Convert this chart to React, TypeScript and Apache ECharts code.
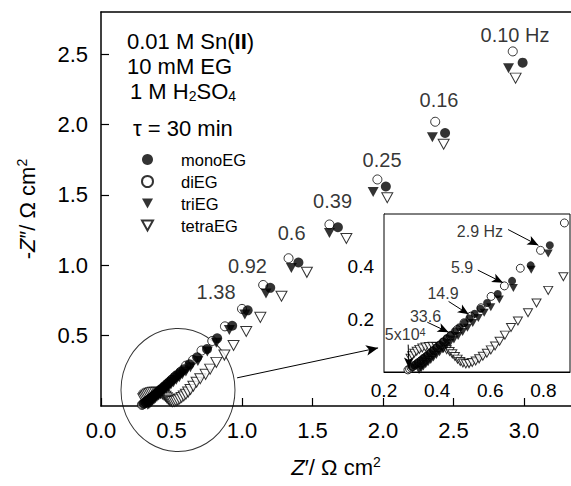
import React, { useEffect, useRef } from "react";
import * as echarts from "echarts";

// ---- data (Z', -Z'' in Ohm cm2), ordered from high to low frequency ----
const monoEG: [number, number][] = [
  [0.305, 0.018], [0.316, 0.026], [0.327, 0.035], [0.338, 0.044], [0.349, 0.053],
  [0.36, 0.062], [0.372, 0.072], [0.384, 0.082], [0.396, 0.093], [0.409, 0.104],
  [0.422, 0.116], [0.436, 0.128], [0.451, 0.141], [0.467, 0.155], [0.484, 0.17],
  [0.502, 0.186], [0.521, 0.203], [0.541, 0.221], [0.563, 0.24], [0.588, 0.262],
  [0.628, 0.296], [0.682, 0.346], [0.752, 0.405], [0.824, 0.481], [0.93, 0.57],
  [1.04, 0.68], [1.2, 0.84], [1.4, 1.02], [1.68, 1.27], [2.02, 1.56],
  [2.44, 1.94], [2.99, 2.44],
];
const diEG: [number, number][] = [
  [0.29, 0.008], [0.296, 0.012], [0.302, 0.016], [0.309, 0.021], [0.316, 0.026],
  [0.323, 0.031], [0.331, 0.037], [0.339, 0.043], [0.348, 0.05], [0.357, 0.057],
  [0.367, 0.065], [0.377, 0.073], [0.388, 0.082], [0.4, 0.092], [0.412, 0.103],
  [0.425, 0.115], [0.438, 0.126], [0.45, 0.137], [0.475, 0.161], [0.501, 0.187],
  [0.527, 0.212], [0.565, 0.244], [0.603, 0.287], [0.653, 0.327], [0.713, 0.394],
  [0.789, 0.462], [0.879, 0.566], [1.0, 0.69], [1.15, 0.86], [1.33, 1.05],
  [1.62, 1.29], [1.96, 1.61], [2.37, 2.02], [2.92, 2.52],
];
const triEG: [number, number][] = [
  [0.332, 0.008], [0.34, 0.014], [0.348, 0.021], [0.357, 0.029], [0.366, 0.037],
  [0.376, 0.046], [0.386, 0.055], [0.397, 0.065], [0.409, 0.075], [0.421, 0.086],
  [0.434, 0.098], [0.448, 0.11], [0.463, 0.123], [0.479, 0.137], [0.496, 0.152],
  [0.514, 0.168], [0.534, 0.186], [0.555, 0.205], [0.577, 0.225], [0.602, 0.246],
  [0.634, 0.275], [0.687, 0.319], [0.754, 0.388], [0.818, 0.45], [0.91, 0.54],
  [1.02, 0.65], [1.17, 0.8], [1.35, 0.98], [1.62, 1.23], [1.93, 1.52],
  [2.35, 1.91], [2.89, 2.4],
];
const tetraEG: [number, number][] = [
  [0.3, 0.052], [0.306, 0.062], [0.314, 0.071], [0.323, 0.079], [0.333, 0.086],
  [0.344, 0.091], [0.356, 0.095], [0.369, 0.097], [0.383, 0.098], [0.397, 0.097],
  [0.411, 0.095], [0.424, 0.091], [0.436, 0.085], [0.447, 0.078], [0.457, 0.069],
  [0.467, 0.059], [0.477, 0.049], [0.487, 0.04], [0.497, 0.034], [0.508, 0.031],
  [0.52, 0.032], [0.532, 0.036], [0.545, 0.042], [0.558, 0.05], [0.572, 0.06],
  [0.587, 0.071], [0.602, 0.084], [0.618, 0.099], [0.635, 0.117], [0.655, 0.14],
  [0.678, 0.169], [0.704, 0.194], [0.742, 0.225], [0.774, 0.262], [0.818, 0.31],
  [0.875, 0.362], [0.94, 0.43], [1.03, 0.53], [1.13, 0.63], [1.28, 0.78],
  [1.46, 0.95], [1.74, 1.19], [2.03, 1.48], [2.43, 1.86], [2.94, 2.33],
];

// frequency annotations, main plot
const freqText = ["0.10 Hz", "0.16", "0.25", "0.39", "0.6", "0.92", "1.38"];
const freqX = [2.936, 2.397, 1.993, 1.642, 1.352, 1.039, 0.816];
const freqY = [2.635, 2.176, 1.75, 1.455, 1.23, 0.996, 0.807];

// frequency annotations, inset
const insetText = ["2.9 Hz", "5.9", "14.9", "33.6", "5x10^4"];
const insetX = [0.561, 0.494, 0.422, 0.356, 0.28];
const insetY = [0.534, 0.397, 0.297, 0.209, 0.144];
const arrowFrom: [number, number][] = [
  [0.667, 0.541], [0.553, 0.387], [0.443, 0.268], [0.363, 0.189], [0.291, 0.104],
];
const arrowTo: [number, number][] = [
  [0.781, 0.481], [0.648, 0.339], [0.519, 0.219], [0.443, 0.151], [0.294, 0.014],
];

// zoom marker in the main plot
const zoomCircle: [number, number] = [0.546, 0.114];
const zoomArrowFrom: [number, number] = [0.965, 0.2];
const zoomArrowTo: [number, number] = [1.965, 0.413];

const FONT = "'Liberation Sans', Arial, Helvetica, sans-serif";
const TRI = "path://M0,0L10,0L5,9Z";

const styles: Record<string, any> = {
  monoEG: { symbol: "circle", itemStyle: { color: "#000" }, main: 10, inset: 8 },
  diEG: {
    symbol: "circle",
    itemStyle: { color: "#fff", borderColor: "#000", borderWidth: 1 },
    main: 9,
    inset: 8,
  },
  triEG: { symbol: TRI, itemStyle: { color: "#000" }, main: [11, 10], inset: [9, 8] },
  tetraEG: {
    symbol: TRI,
    itemStyle: { color: "#fff", borderColor: "#000", borderWidth: 1 },
    main: [11, 10],
    inset: [9, 8],
  },
};

const seriesData: Record<string, [number, number][]> = { monoEG, diEG, triEG, tetraEG };
const drawOrder = ["tetraEG", "diEG", "monoEG", "triEG"];

function buildOption() {
  const fmt1 = (v: number) => v.toFixed(1);
  const series: any[] = [];
  // zoom circle
  series.push({
    type: "scatter",
    xAxisIndex: 0,
    yAxisIndex: 0,
    silent: true,
    symbol: "circle",
    symbolSize: [114, 123],
    itemStyle: { color: "rgba(0,0,0,0)", borderColor: "#000", borderWidth: 1 },
    data: [zoomCircle],
    z: 1,
    markLine: {
      silent: true,
      symbol: ["none", "arrow"],
      symbolSize: [8, 12],
      label: { show: false },
      lineStyle: { color: "#000", width: 1, type: "solid" },
      data: [[{ coord: zoomArrowFrom }, { coord: zoomArrowTo }]],
    },
  });
  for (const name of drawOrder) {
    const s = styles[name];
    series.push({
      name,
      type: "scatter",
      xAxisIndex: 0,
      yAxisIndex: 0,
      symbol: s.symbol,
      symbolSize: s.main,
      itemStyle: s.itemStyle,
      data: seriesData[name],
      z: 3,
    });
  }
  for (const name of drawOrder) {
    const s = styles[name];
    series.push({
      name,
      type: "scatter",
      xAxisIndex: 2,
      yAxisIndex: 1,
      symbol: s.symbol,
      symbolSize: s.inset,
      itemStyle: s.itemStyle,
      data: seriesData[name],
      clip: true,
      z: 3,
    });
  }
  // main annotations
  series.push({
    type: "scatter",
    xAxisIndex: 0,
    yAxisIndex: 0,
    silent: true,
    symbolSize: 0,
    data: freqText.map((t, i) => ({ name: t, value: [freqX[i], freqY[i]] })),
    label: {
      show: true,
      position: "inside",
      formatter: "{b}",
      fontSize: 20,
      color: "#000",
      fontFamily: FONT,
    },
    z: 5,
  });
  // inset annotations
  series.push({
    type: "scatter",
    xAxisIndex: 2,
    yAxisIndex: 1,
    silent: true,
    symbolSize: 0,
    data: insetText.map((t, i) => ({ name: t, value: [insetX[i], insetY[i]] })),
    label: {
      show: true,
      position: "inside",
      formatter: (p: any) => {
        const t: string = p.name;
        if (t.includes("^")) {
          const [a, b] = t.split("^");
          return `{n|${a}}{s|${b}}`;
        }
        return `{n|${t}}`;
      },
      color: "#000",
      fontFamily: FONT,
      rich: {
        n: { fontSize: 16, fontFamily: FONT, color: "#000", lineHeight: 15 },
        s: { fontSize: 11, fontFamily: FONT, color: "#000", lineHeight: 9, verticalAlign: "top" },
      },
    },
    z: 5,
    markLine: {
      silent: true,
      symbol: ["none", "arrow"],
      symbolSize: [7, 11],
      label: { show: false },
      lineStyle: { color: "#000", width: 1, type: "solid" },
      data: arrowFrom.map((f, i) => [{ coord: f }, { coord: arrowTo[i] }]),
    },
  });

  const tickLabel = (size: number, margin: number) => ({
    fontSize: size,
    fontFamily: FONT,
    color: "#000",
    margin,
    formatter: fmt1,
  });

  const nameRich = {
    i: { fontSize: 22, fontStyle: "italic", fontFamily: FONT, color: "#000", lineHeight: 24 },
    n: { fontSize: 22, fontFamily: FONT, color: "#000", lineHeight: 24 },
    s: { fontSize: 14, fontFamily: FONT, color: "#000", lineHeight: 14, verticalAlign: "top" },
  };

  return {
    animation: false,
    backgroundColor: "#fff",
    grid: [
      { left: 101, top: 12, right: 0, bottom: 80 },
      {
        left: 384,
        top: 214,
        right: 1,
        bottom: 114,
        show: true,
        backgroundColor: "#fff",
        borderColor: "#000",
        borderWidth: 1,
        z: 2,
      },
    ],
    legend: {
      data: ["monoEG", "diEG", "triEG", "tetraEG"],
      orient: "vertical",
      left: 141,
      top: 151,
      padding: 0,
      itemWidth: 11,
      itemHeight: 11,
      itemGap: 5,
      selectedMode: false,
      textStyle: {
        fontSize: 16.5,
        fontFamily: FONT,
        color: "#000",
        padding: [0, 0, 0, 23],
      },
    },
    xAxis: [
      {
        gridIndex: 0,
        type: "value",
        min: 0,
        max: 3.333,
        interval: 0.5,
        axisLine: { show: true, onZero: false, lineStyle: { color: "#000", width: 1.5 } },
        axisTick: { show: true, inside: true, length: 8, lineStyle: { color: "#000", width: 1.2 } },
        axisLabel: { ...tickLabel(22, 13), showMaxLabel: false },
        splitLine: { show: false },
        name: "{i|Z}{n|′/ Ω cm}{s|2}",
        nameLocation: "middle",
        nameGap: 49,
        nameTextStyle: { rich: nameRich },
      },
      {
        gridIndex: 0,
        type: "value",
        position: "top",
        min: 0,
        max: 3.333,
        interval: 0.5,
        axisLine: { show: true, onZero: false, lineStyle: { color: "#000", width: 1.5 } },
        axisTick: { show: false },
        axisLabel: { show: false },
        splitLine: { show: false },
      },
      {
        gridIndex: 1,
        type: "value",
        min: 0.2,
        max: 0.9,
        interval: 0.2,
        axisLine: { show: true, onZero: false, lineStyle: { color: "#000", width: 1 } },
        axisTick: { show: true, inside: true, length: 5, lineStyle: { color: "#000" } },
        axisLabel: { ...tickLabel(19, 9), showMaxLabel: false },
        splitLine: { show: false },
      },
    ],
    yAxis: [
      {
        gridIndex: 0,
        type: "value",
        min: 0,
        max: 2.8,
        interval: 0.5,
        axisLine: { show: true, onZero: false, lineStyle: { color: "#000", width: 1.5 } },
        axisTick: { show: true, inside: true, length: 8, lineStyle: { color: "#000", width: 1.2 } },
        axisLabel: { ...tickLabel(22, 13), showMinLabel: false, showMaxLabel: false },
        splitLine: { show: false },
        name: "{n|-}{i|Z}{n|″/ Ω cm}{s|2}",
        nameLocation: "middle",
        nameGap: 62,
        nameTextStyle: { rich: nameRich },
      },
      {
        gridIndex: 1,
        type: "value",
        min: 0,
        max: 0.6,
        interval: 0.2,
        axisLine: { show: true, onZero: false, lineStyle: { color: "#000", width: 1 } },
        axisTick: { show: true, inside: true, length: 5, lineStyle: { color: "#000" } },
        axisLabel: { ...tickLabel(19, 10), showMinLabel: false, showMaxLabel: false },
        splitLine: { show: false },
      },
    ],
    graphic: [
      {
        type: "text",
        x: 127,
        y: 41,
        z: 10,
        style: {
          text: "{n|0.01 M Sn(}{b|II}{n|)}",
          verticalAlign: "middle",
          align: "left",
          rich: {
            n: { fontSize: 22, fontFamily: FONT, fill: "#000", lineHeight: 22 },
            b: { fontSize: 22, fontFamily: FONT, fontWeight: "bold", fill: "#000", lineHeight: 22 },
          },
        },
      },
      {
        type: "text",
        x: 127,
        y: 66,
        z: 10,
        style: {
          text: "10 mM EG",
          font: `22px ${FONT}`,
          fill: "#000",
          verticalAlign: "middle",
          align: "left",
        },
      },
      {
        type: "text",
        x: 130,
        y: 91,
        z: 10,
        style: {
          text: "{n|1 M H}{d|2}{n|SO}{d|4}",
          verticalAlign: "middle",
          align: "left",
          rich: {
            n: { fontSize: 22, fontFamily: FONT, fill: "#000", lineHeight: 22 },
            d: {
              fontSize: 14,
              fontFamily: FONT,
              fill: "#000",
              lineHeight: 12,
              padding: [10, 0, 0, 0],
            },
          },
        },
      },
      {
        type: "text",
        x: 133,
        y: 128,
        z: 10,
        style: {
          text: "τ = 30 min",
          font: `22px ${FONT}`,
          fill: "#000",
          verticalAlign: "middle",
          align: "left",
        },
      },
    ],
    series,
  };
}

export default function App() {
  const ref = useRef<HTMLDivElement>(null);
  useEffect(() => {
    if (!ref.current) return;
    const chart = echarts.init(ref.current, null, { renderer: "svg" });
    chart.setOption(buildOption() as any);
    return () => chart.dispose();
  }, []);
  return (
    <div
      ref={ref}
      style={{ position: "fixed", left: 0, top: 0, width: 571, height: 486, background: "#fff" }}
    />
  );
}
